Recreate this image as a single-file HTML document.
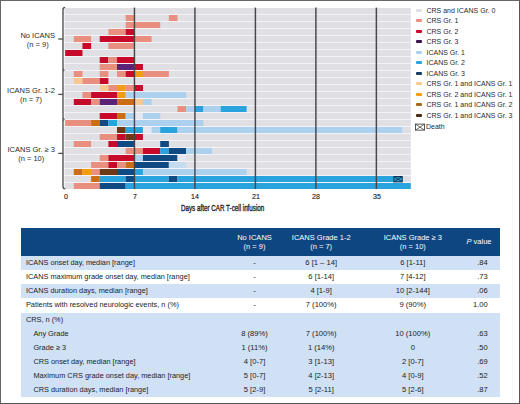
<!DOCTYPE html>
<html><head><meta charset="utf-8"><style>
*{margin:0;padding:0;box-sizing:border-box}
html,body{width:520px;height:404px;overflow:hidden;background:#fff}
body{position:relative;font-family:"Liberation Sans",sans-serif;color:#222}
#frame{position:absolute;left:0;top:0;width:520px;height:404px;border:1px solid #666;border-right-color:#555;border-bottom-color:#555}
svg{position:absolute;left:0;top:0}
.gl{position:absolute;right:465px;text-align:center;white-space:nowrap;font-size:7.5px;line-height:9px;color:#2a2a2a}
.ax{position:absolute;top:191.5px;font-size:7.7px;color:#222;width:20px;text-align:center;transform:scaleX(0.92);-webkit-text-stroke:0.15px #222}
.axt{position:absolute;left:180.8px;top:202.6px;font-size:9.0px;color:#222;white-space:nowrap;transform-origin:0 0;transform:scaleX(0.695);-webkit-text-stroke:0.35px #222}
.sw{position:absolute;left:415.7px;width:6.8px;height:3px;border-radius:1px}
.lt{position:absolute;left:426.5px;font-size:7px;line-height:9px;white-space:nowrap;color:#2a2a2a}
.th{position:absolute;left:21.3px;top:228px;width:478.4px;height:27.5px;background:#0e4682}
.thc{position:absolute;width:80px;text-align:center;color:#fff;font-size:7.5px;line-height:9.3px;white-space:nowrap}
.thp{position:absolute;right:28.5px;color:#fff;font-size:7.5px;line-height:9px;white-space:nowrap}
.tr{position:absolute;left:21.3px;width:478.4px}
.td{position:absolute;font-size:7.36px;line-height:10px;white-space:nowrap;color:#222}
.tc{position:absolute;width:80px;text-align:center;font-size:7.6px;line-height:10px;white-space:nowrap;color:#222}
.tp{position:absolute;right:32.2px;font-size:7.6px;line-height:10px;white-space:nowrap;color:#222}
</style></head><body>
<div style="position:absolute;left:512px;top:1px;width:1px;height:402px;background:#f6f6f6"></div>
<svg width="520" height="220" viewBox="0 0 520 220">
<rect x="64.6" y="8" width="346.18" height="181" fill="#f4f2f7"/>
<rect x="64.6" y="8" width="346.18" height="6" fill="#e0dfe4"/>
<rect x="64.6" y="15" width="346.18" height="6" fill="#e0dfe4"/>
<rect x="125.66" y="15" width="8.64" height="6" fill="#e98f7f"/>
<rect x="168.86" y="15" width="8.64" height="6" fill="#e98f7f"/>
<rect x="64.6" y="22" width="346.18" height="6" fill="#e0dfe4"/>
<rect x="125.66" y="22" width="34.56" height="6" fill="#e98f7f"/>
<rect x="64.6" y="29" width="346.18" height="6" fill="#e0dfe4"/>
<rect x="108.38" y="29" width="17.28" height="6" fill="#e98f7f"/>
<rect x="125.66" y="29" width="8.64" height="6" fill="#c80a2a"/>
<rect x="64.6" y="36" width="346.18" height="6" fill="#e0dfe4"/>
<rect x="73.82" y="36" width="17.28" height="6" fill="#e98f7f"/>
<rect x="99.74" y="36" width="34.56" height="6" fill="#c80a2a"/>
<rect x="134.30" y="36" width="17.28" height="6" fill="#e98f7f"/>
<rect x="64.6" y="43" width="346.18" height="6" fill="#e0dfe4"/>
<rect x="82.46" y="43" width="8.64" height="6" fill="#c80a2a"/>
<rect x="108.38" y="43" width="25.92" height="6" fill="#e98f7f"/>
<rect x="64.6" y="50" width="346.18" height="6" fill="#e0dfe4"/>
<rect x="65.18" y="50" width="17.28" height="6" fill="#c80a2a"/>
<rect x="64.6" y="57" width="346.18" height="6" fill="#e0dfe4"/>
<rect x="99.74" y="57" width="8.64" height="6" fill="#c80a2a"/>
<rect x="108.38" y="57" width="8.64" height="6" fill="#e98f7f"/>
<rect x="117.02" y="57" width="17.28" height="6" fill="#c80a2a"/>
<rect x="64.6" y="64" width="346.18" height="6" fill="#e0dfe4"/>
<rect x="99.74" y="64" width="17.28" height="6" fill="#e98f7f"/>
<rect x="117.02" y="64" width="17.28" height="6" fill="#5a2378"/>
<rect x="134.30" y="64" width="8.64" height="6" fill="#c80a2a"/>
<rect x="64.6" y="71" width="346.18" height="6" fill="#e0dfe4"/>
<rect x="73.82" y="71" width="8.64" height="6" fill="#e98f7f"/>
<rect x="99.74" y="71" width="8.64" height="6" fill="#e98f7f"/>
<rect x="117.02" y="71" width="8.64" height="6" fill="#e98f7f"/>
<rect x="125.66" y="71" width="8.64" height="6" fill="#c80a2a"/>
<rect x="134.30" y="71" width="8.64" height="6" fill="#f29c12"/>
<rect x="142.94" y="71" width="25.92" height="6" fill="#e98f7f"/>
<rect x="64.6" y="78" width="346.18" height="6" fill="#e0dfe4"/>
<rect x="73.82" y="78" width="8.64" height="6" fill="#f9c890"/>
<rect x="82.46" y="78" width="17.28" height="6" fill="#e98f7f"/>
<rect x="99.74" y="78" width="8.64" height="6" fill="#c80a2a"/>
<rect x="64.6" y="85" width="346.18" height="6" fill="#e0dfe4"/>
<rect x="99.74" y="85" width="8.64" height="6" fill="#f9c890"/>
<rect x="108.38" y="85" width="8.64" height="6" fill="#e98f7f"/>
<rect x="117.02" y="85" width="8.64" height="6" fill="#f29c12"/>
<rect x="125.66" y="85" width="8.64" height="6" fill="#e98f7f"/>
<rect x="134.30" y="85" width="8.64" height="6" fill="#c80a2a"/>
<rect x="64.6" y="92" width="346.18" height="6" fill="#e0dfe4"/>
<rect x="82.46" y="92" width="8.64" height="6" fill="#e98f7f"/>
<rect x="91.10" y="92" width="25.92" height="6" fill="#c80a2a"/>
<rect x="117.02" y="92" width="8.64" height="6" fill="#f29c12"/>
<rect x="125.66" y="92" width="60.48" height="6" fill="#acd1ef"/>
<rect x="64.6" y="99" width="346.18" height="6" fill="#e0dfe4"/>
<rect x="73.82" y="99" width="17.28" height="6" fill="#c80a2a"/>
<rect x="91.10" y="99" width="8.64" height="6" fill="#e98f7f"/>
<rect x="99.74" y="99" width="17.28" height="6" fill="#5a2378"/>
<rect x="117.02" y="99" width="17.28" height="6" fill="#cc6d14"/>
<rect x="134.30" y="99" width="8.64" height="6" fill="#f9c890"/>
<rect x="142.94" y="99" width="8.64" height="6" fill="#acd1ef"/>
<rect x="64.6" y="106" width="346.18" height="6" fill="#e0dfe4"/>
<rect x="177.50" y="106" width="8.64" height="6" fill="#e98f7f"/>
<rect x="186.14" y="106" width="8.64" height="6" fill="#acd1ef"/>
<rect x="194.78" y="106" width="8.64" height="6" fill="#28a3dd"/>
<rect x="203.42" y="106" width="17.28" height="6" fill="#acd1ef"/>
<rect x="220.70" y="106" width="25.92" height="6" fill="#28a3dd"/>
<rect x="64.6" y="113" width="346.18" height="6" fill="#e0dfe4"/>
<rect x="99.74" y="113" width="17.28" height="6" fill="#c80a2a"/>
<rect x="117.02" y="113" width="8.64" height="6" fill="#cc6d14"/>
<rect x="125.66" y="113" width="8.64" height="6" fill="#acd1ef"/>
<rect x="134.30" y="113" width="8.64" height="6" fill="#e4e7ef"/>
<rect x="142.94" y="113" width="17.28" height="6" fill="#acd1ef"/>
<rect x="64.6" y="120" width="346.18" height="6" fill="#e0dfe4"/>
<rect x="65.18" y="120" width="25.92" height="6" fill="#e98f7f"/>
<rect x="91.10" y="120" width="8.64" height="6" fill="#cc6d14"/>
<rect x="99.74" y="120" width="8.64" height="6" fill="#0f4a82"/>
<rect x="108.38" y="120" width="8.64" height="6" fill="#28a3dd"/>
<rect x="117.02" y="120" width="86.40" height="6" fill="#acd1ef"/>
<rect x="64.6" y="127" width="346.18" height="6" fill="#e0dfe4"/>
<rect x="117.02" y="127" width="8.64" height="6" fill="#6c3a14"/>
<rect x="125.66" y="127" width="17.28" height="6" fill="#28a3dd"/>
<rect x="142.94" y="127" width="8.64" height="6" fill="#e4e7ef"/>
<rect x="151.58" y="127" width="8.64" height="6" fill="#acd1ef"/>
<rect x="160.22" y="127" width="17.28" height="6" fill="#28a3dd"/>
<rect x="177.50" y="127" width="224.64" height="6" fill="#acd1ef"/>
<rect x="64.6" y="134" width="346.18" height="6" fill="#e0dfe4"/>
<rect x="99.74" y="134" width="17.28" height="6" fill="#e98f7f"/>
<rect x="117.02" y="134" width="8.64" height="6" fill="#c80a2a"/>
<rect x="125.66" y="134" width="8.64" height="6" fill="#6c3a14"/>
<rect x="134.30" y="134" width="8.64" height="6" fill="#c80a2a"/>
<rect x="64.6" y="141" width="346.18" height="6" fill="#e0dfe4"/>
<rect x="73.82" y="141" width="17.28" height="6" fill="#e98f7f"/>
<rect x="108.38" y="141" width="8.64" height="6" fill="#c80a2a"/>
<rect x="117.02" y="141" width="17.28" height="6" fill="#0f4a82"/>
<rect x="160.22" y="141" width="8.64" height="6" fill="#0f4a82"/>
<rect x="64.6" y="148" width="346.18" height="6" fill="#e0dfe4"/>
<rect x="125.66" y="148" width="17.28" height="6" fill="#e98f7f"/>
<rect x="142.94" y="148" width="17.28" height="6" fill="#c80a2a"/>
<rect x="160.22" y="148" width="8.64" height="6" fill="#28a3dd"/>
<rect x="168.86" y="148" width="17.28" height="6" fill="#0f4a82"/>
<rect x="186.14" y="148" width="25.92" height="6" fill="#acd1ef"/>
<rect x="64.6" y="155" width="346.18" height="6" fill="#e0dfe4"/>
<rect x="99.74" y="155" width="8.64" height="6" fill="#e98f7f"/>
<rect x="108.38" y="155" width="25.92" height="6" fill="#c80a2a"/>
<rect x="134.30" y="155" width="8.64" height="6" fill="#acd1ef"/>
<rect x="142.94" y="155" width="34.56" height="6" fill="#0f4a82"/>
<rect x="177.50" y="155" width="8.64" height="6" fill="#e4e7ef"/>
<rect x="64.6" y="162" width="346.18" height="6" fill="#e0dfe4"/>
<rect x="91.10" y="162" width="17.28" height="6" fill="#e98f7f"/>
<rect x="108.38" y="162" width="8.64" height="6" fill="#c80a2a"/>
<rect x="117.02" y="162" width="8.64" height="6" fill="#e98f7f"/>
<rect x="125.66" y="162" width="8.64" height="6" fill="#cc6d14"/>
<rect x="134.30" y="162" width="34.56" height="6" fill="#0f4a82"/>
<rect x="168.86" y="162" width="17.28" height="6" fill="#c4dbf0"/>
<rect x="64.6" y="169" width="346.18" height="6" fill="#e0dfe4"/>
<rect x="73.82" y="169" width="8.64" height="6" fill="#cc6d14"/>
<rect x="82.46" y="169" width="8.64" height="6" fill="#f29c12"/>
<rect x="91.10" y="169" width="8.64" height="6" fill="#e98f7f"/>
<rect x="99.74" y="169" width="17.28" height="6" fill="#6c3a14"/>
<rect x="117.02" y="169" width="17.28" height="6" fill="#0f4a82"/>
<rect x="134.30" y="169" width="8.64" height="6" fill="#28a3dd"/>
<rect x="142.94" y="169" width="103.68" height="6" fill="#acd1ef"/>
<rect x="64.6" y="176" width="346.18" height="6" fill="#e0dfe4"/>
<rect x="91.10" y="176" width="8.64" height="6" fill="#cc6d14"/>
<rect x="99.74" y="176" width="25.92" height="6" fill="#28a3dd"/>
<rect x="125.66" y="176" width="8.64" height="6" fill="#0f4a82"/>
<rect x="134.30" y="176" width="34.56" height="6" fill="#28a3dd"/>
<rect x="168.86" y="176" width="8.64" height="6" fill="#0f4a82"/>
<rect x="177.50" y="176" width="216.00" height="6" fill="#28a3dd"/>
<rect x="64.6" y="183" width="346.18" height="6" fill="#e0dfe4"/>
<rect x="73.82" y="183" width="25.92" height="6" fill="#e98f7f"/>
<rect x="99.74" y="183" width="25.92" height="6" fill="#0f4a82"/>
<rect x="125.66" y="183" width="285.12" height="6" fill="#28a3dd"/>
<rect x="393.85" y="176.55" width="8.34" height="5.30" fill="#2a9fd6" stroke="#0f3656" stroke-width="1.1"/>
<path d="M393.90 176.6L402.14 181.8M402.14 176.6L393.90 181.8" stroke="#0f3656" stroke-width="1.0" fill="none"/>
<line x1="134.45" y1="7.6" x2="134.45" y2="189" stroke="#46464c" stroke-width="1.45"/>
<line x1="194.93" y1="7.6" x2="194.93" y2="189" stroke="#46464c" stroke-width="1.45"/>
<line x1="255.41" y1="7.6" x2="255.41" y2="189" stroke="#46464c" stroke-width="1.45"/>
<line x1="315.89" y1="7.6" x2="315.89" y2="189" stroke="#46464c" stroke-width="1.45"/>
<line x1="376.37" y1="7.6" x2="376.37" y2="189" stroke="#46464c" stroke-width="1.45"/>
<path d="M65.2 7.4Q63 7.4 63 9.6L63 186.4Q63 188.6 65.2 188.8" stroke="#4d4d4d" stroke-width="1.35" fill="none"/>
<path d="M58.3 39.0L63 39.0" stroke="#4d4d4d" stroke-width="1.3" fill="none"/>
<path d="M58.3 94.4L63 94.4" stroke="#4d4d4d" stroke-width="1.3" fill="none"/>
<path d="M58.3 153.4L63 153.4" stroke="#4d4d4d" stroke-width="1.3" fill="none"/>
<path d="M63 69.0L64.4 70.2L63 71.4" stroke="#4d4d4d" stroke-width="1" fill="none"/>
<path d="M63 118.1L64.4 119.3L63 120.5" stroke="#4d4d4d" stroke-width="1" fill="none"/>
</svg>
<div class="gl" style="top:30.5px">No ICANS<br>(n = 9)</div>
<div class="gl" style="top:85.8px">ICANS Gr. 1-2<br>(n = 7)</div>
<div class="gl" style="top:144.5px">ICANS Gr. &ge; 3<br>(n = 10)</div>
<div class="ax" style="left:56px">0</div>
<div class="ax" style="left:124.5px">7</div>
<div class="ax" style="left:185px">14</div>
<div class="ax" style="left:245.5px">21</div>
<div class="ax" style="left:306px">28</div>
<div class="ax" style="left:366.5px">35</div>
<div class="axt">Days after CAR T-cell infusion</div>
<div class="sw" style="top:9px;background:#e0dfe4"></div><div class="lt" style="top:5.7px">CRS and ICANS Gr. 0</div>
<div class="sw" style="top:19px;background:#e98f7f"></div><div class="lt" style="top:16.2px">CRS Gr. 1</div>
<div class="sw" style="top:30px;background:#c80a2a"></div><div class="lt" style="top:26.7px">CRS Gr. 2</div>
<div class="sw" style="top:40px;background:#3c1450"></div><div class="lt" style="top:37.2px">CRS Gr. 3</div>
<div class="sw" style="top:51px;background:#acd1ef"></div><div class="lt" style="top:47.7px">ICANS Gr. 1</div>
<div class="sw" style="top:61px;background:#28a3dd"></div><div class="lt" style="top:58.2px">ICANS Gr. 2</div>
<div class="sw" style="top:72px;background:#163e66"></div><div class="lt" style="top:68.7px">ICANS Gr. 3</div>
<div class="sw" style="top:82px;background:#f9c890"></div><div class="lt" style="top:79.2px">CRS Gr. 1 and ICANS Gr. 1</div>
<div class="sw" style="top:93px;background:#f29c12"></div><div class="lt" style="top:89.7px">CRS Gr. 2 and ICANS Gr. 1</div>
<div class="sw" style="top:103px;background:#a86820"></div><div class="lt" style="top:100.2px">CRS Gr. 1 and ICANS Gr. 2</div>
<div class="sw" style="top:114px;background:#4a2c12"></div><div class="lt" style="top:110.7px">CRS Gr. 1 and ICANS Gr. 3</div>
<svg width="520" height="220" style="left:0;top:0"><g transform="translate(415,123.6)"><rect x="0.5" y="0.5" width="9" height="6" fill="none" stroke="#3a3a3a" stroke-width="0.85"/><path d="M0.5 0.5L5 3.5L9.5 0.5M0.5 6.5L5 3.5L9.5 6.5" stroke="#3a3a3a" stroke-width="0.75" fill="none"/></g></svg>
<div class="lt" style="top:122px;left:426px">Death</div>
<div class="th"></div>
<div class="thc" style="left:214.5px;top:232.5px">No ICANS<br>(n = 9)</div>
<div class="thc" style="left:281.2px;top:232.5px">ICANS Grade 1-2<br>(n = 7)</div>
<div class="thc" style="left:372.8px;top:232.5px">ICANS Grade &ge; 3<br>(n = 10)</div>
<div class="thp" style="top:237.2px"><i>P</i> value</div>
<div class="tr" style="top:255.5px;height:14.8px;background:#d0e1f6"></div>
<div class="td" style="left:25.9px;top:257.9px">ICANS onset day, median [range]</div>
<div class="tc" style="left:214.5px;top:257.9px">-</div>
<div class="tc" style="left:281.2px;top:257.9px">6 [1 &ndash; 14]</div>
<div class="tc" style="left:372.8px;top:257.9px">6 [1-11]</div>
<div class="tp" style="top:257.9px">.84</div>
<div class="tr" style="top:270.3px;height:13.7px;background:#ffffff"></div>
<div class="td" style="left:25.9px;top:272.1px">ICANS maximum grade onset day, median [range]</div>
<div class="tc" style="left:214.5px;top:272.1px">-</div>
<div class="tc" style="left:281.2px;top:272.1px">6 [1-14]</div>
<div class="tc" style="left:372.8px;top:272.1px">7 [4-12]</div>
<div class="tp" style="top:272.1px">.73</div>
<div class="tr" style="top:284.0px;height:14.0px;background:#d0e1f6"></div>
<div class="td" style="left:25.9px;top:286.0px">ICANS duration days, median [range]</div>
<div class="tc" style="left:214.5px;top:286.0px">-</div>
<div class="tc" style="left:281.2px;top:286.0px">4 [1-9]</div>
<div class="tc" style="left:372.8px;top:286.0px">10 [2-144]</div>
<div class="tp" style="top:286.0px">.06</div>
<div class="tr" style="top:298.0px;height:14.5px;background:#ffffff"></div>
<div class="td" style="left:25.9px;top:300.2px">Patients with resolved neurologic events, n (%)</div>
<div class="tc" style="left:214.5px;top:300.2px">-</div>
<div class="tc" style="left:281.2px;top:300.2px">7 (100%)</div>
<div class="tc" style="left:372.8px;top:300.2px">9 (90%)</div>
<div class="tp" style="top:300.2px">1.00</div>
<div class="tr" style="top:312.5px;height:14.0px;background:#d0e1f6"></div>
<div class="td" style="left:25.9px;top:314.5px">CRS, n (%)</div>
<div class="tc" style="left:214.5px;top:314.5px"></div>
<div class="tc" style="left:281.2px;top:314.5px"></div>
<div class="tc" style="left:372.8px;top:314.5px"></div>
<div class="tp" style="top:314.5px"></div>
<div class="tr" style="top:326.5px;height:14.0px;background:#d0e1f6"></div>
<div class="td" style="left:33.4px;top:328.5px">Any Grade</div>
<div class="tc" style="left:214.5px;top:328.5px">8 (89%)</div>
<div class="tc" style="left:281.2px;top:328.5px">7 (100%)</div>
<div class="tc" style="left:372.8px;top:328.5px">10 (100%)</div>
<div class="tp" style="top:328.5px">.63</div>
<div class="tr" style="top:340.5px;height:14.0px;background:#d0e1f6"></div>
<div class="td" style="left:33.4px;top:342.5px">Grade &ge; 3</div>
<div class="tc" style="left:214.5px;top:342.5px">1 (11%)</div>
<div class="tc" style="left:281.2px;top:342.5px">1 (14%)</div>
<div class="tc" style="left:372.8px;top:342.5px">0</div>
<div class="tp" style="top:342.5px">.50</div>
<div class="tr" style="top:354.6px;height:14.4px;background:#d0e1f6"></div>
<div class="td" style="left:33.4px;top:356.8px">CRS onset day, median [range]</div>
<div class="tc" style="left:214.5px;top:356.8px">4 [0-7]</div>
<div class="tc" style="left:281.2px;top:356.8px">3 [1-13]</div>
<div class="tc" style="left:372.8px;top:356.8px">2 [0-7]</div>
<div class="tp" style="top:356.8px">.69</div>
<div class="tr" style="top:369.0px;height:14.2px;background:#d0e1f6"></div>
<div class="td" style="left:33.4px;top:371.1px">Maximum CRS grade onset day, median [range]</div>
<div class="tc" style="left:214.5px;top:371.1px">5 [0-7]</div>
<div class="tc" style="left:281.2px;top:371.1px">4 [2-13]</div>
<div class="tc" style="left:372.8px;top:371.1px">4 [0-9]</div>
<div class="tp" style="top:371.1px">.52</div>
<div class="tr" style="top:383.2px;height:13.6px;background:#d0e1f6"></div>
<div class="td" style="left:33.4px;top:385.0px">CRS duration days, median [range]</div>
<div class="tc" style="left:214.5px;top:385.0px">5 [2-9]</div>
<div class="tc" style="left:281.2px;top:385.0px">5 [2-11]</div>
<div class="tc" style="left:372.8px;top:385.0px">5 [2-6]</div>
<div class="tp" style="top:385.0px">.87</div>
<div id="frame"></div>
</body></html>
